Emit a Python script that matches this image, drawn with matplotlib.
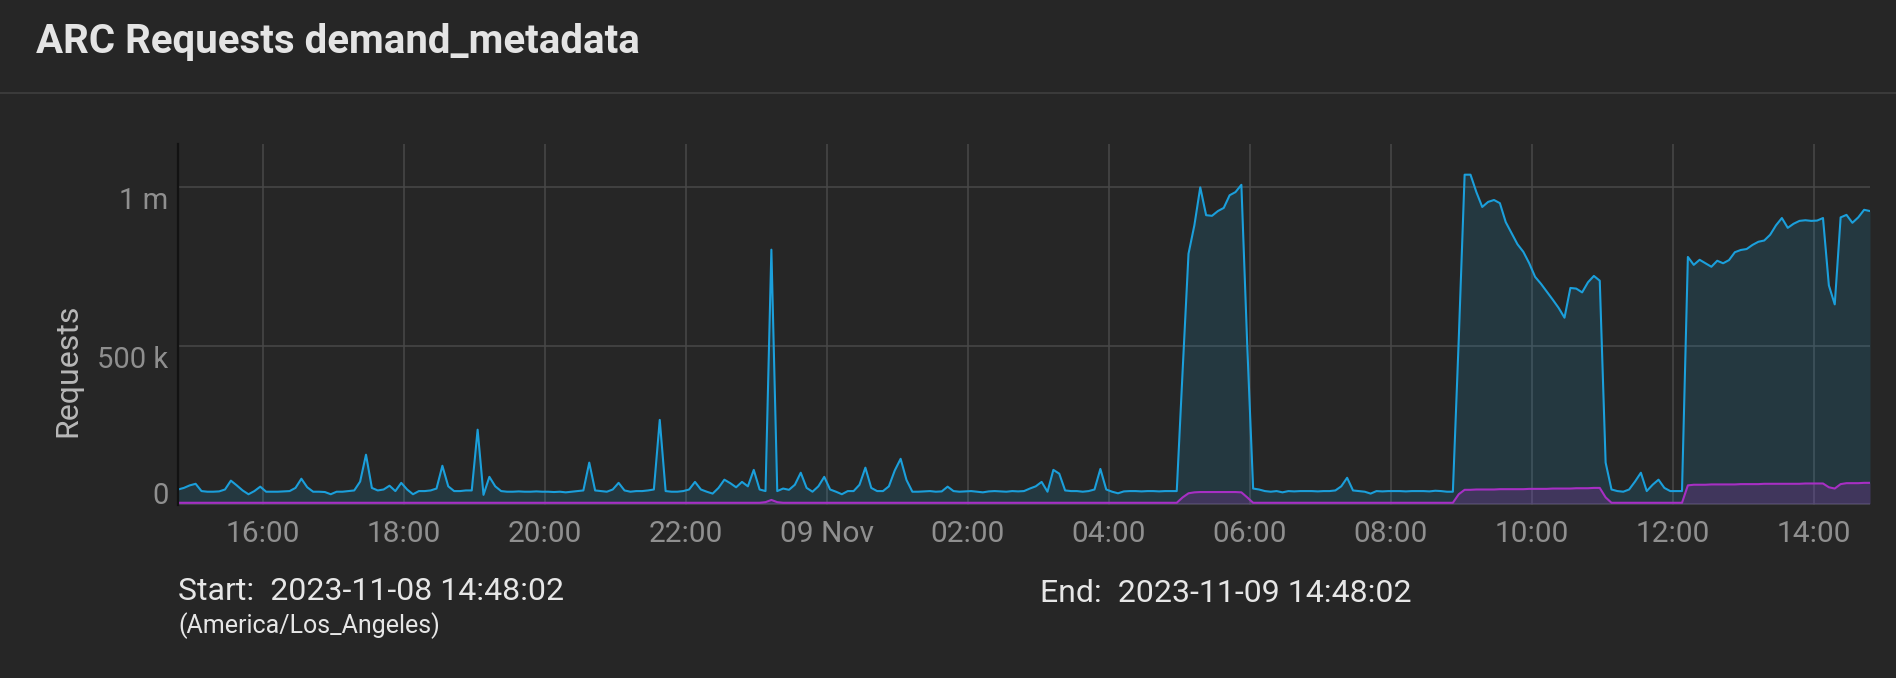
"""
ARC Requests demand_metadata - 24h panel recreated with matplotlib.
"""

import matplotlib
matplotlib.use("Agg")
import matplotlib.pyplot as plt
import pandas as pd
from matplotlib.lines import Line2D

# Time window, samples every 5 minutes
start_time = "2023-11-08 14:48:02"
end_time = "2023-11-09 14:48:02"
sample_step = "5min"

# Blue series (thousands of requests), one row per hour of samples
hits_k = [
    45, 50, 58, 63, 40, 38, 38, 39, 45, 73, 58, 42,
    30, 40, 54, 38, 38, 38, 39, 40, 50, 79, 52, 38,
    38, 37, 30, 38, 38, 40, 42, 70, 155, 50, 42, 45,
    57, 40, 66, 45, 30, 40, 40, 42, 48, 120, 55, 40,
    40, 42, 42, 234, 28, 85, 55, 40, 38, 38, 39, 38,
    38, 39, 38, 38, 37, 38, 36, 38, 40, 42, 130, 42,
    40, 38, 45, 66, 42, 38, 40, 40, 42, 45, 265, 40,
    38, 38, 40, 45, 69, 45, 38, 32, 50, 76, 65, 52,
    69, 55, 107, 45, 40, 803, 40, 48, 44, 60, 98, 50,
    38, 55, 85, 45, 38, 30, 40, 40, 60, 114, 50, 40,
    40, 55, 105, 142, 75, 38, 38, 39, 40, 38, 39, 54,
    40, 38, 39, 40, 38, 36, 39, 40, 39, 38, 40, 39,
    40, 48, 55, 69, 38, 107, 95, 42, 40, 40, 38, 40,
    45, 110, 45, 38, 33, 39, 40, 40, 39, 40, 40, 39,
    40, 40, 40, 420, 790, 880, 1000, 912, 910, 925, 935, 975,
    985, 1008, 500, 48, 45, 40, 38, 40, 36, 40, 39, 40,
    40, 40, 39, 40, 40, 42, 55, 82, 42, 40, 38, 32,
    40, 39, 40, 40, 40, 39, 40, 40, 40, 39, 41, 40,
    38, 38, 520, 1040, 1040, 985, 938, 954, 960, 950, 890, 855,
    820, 796, 760, 717, 695, 670, 645, 619, 588, 682, 680, 668,
    700, 720, 705, 130, 45, 40, 38, 45, 70, 98, 40, 60,
    76, 50, 40, 40, 40, 780, 755, 771, 760, 749, 768, 760,
    770, 795, 802, 805, 818, 828, 832, 850, 880, 903, 872, 885,
    894, 896, 894, 895, 903, 690, 630, 905, 913, 888, 905, 929,
    925,
]

# Purple series (thousands of requests)
misses_k = [
    3, 3, 3, 3, 3, 3, 3, 3, 3, 3, 3, 3,
    3, 3, 3, 3, 3, 3, 3, 3, 3, 3, 3, 3,
    3, 3, 3, 3, 3, 3, 3, 3, 3, 3, 3, 3,
    3, 3, 3, 3, 3, 3, 3, 3, 3, 3, 3, 3,
    3, 3, 3, 3, 3, 3, 3, 3, 3, 3, 3, 3,
    3, 3, 3, 3, 3, 3, 3, 3, 3, 3, 3, 3,
    3, 3, 3, 3, 3, 3, 3, 3, 3, 3, 3, 3,
    3, 3, 3, 3, 3, 3, 3, 3, 3, 3, 3, 3,
    3, 3, 3, 3, 5, 12, 5, 3, 3, 3, 3, 3,
    3, 3, 3, 3, 3, 3, 3, 3, 3, 3, 3, 3,
    3, 3, 3, 3, 3, 3, 3, 3, 3, 3, 3, 3,
    3, 3, 3, 3, 3, 3, 3, 3, 3, 3, 3, 3,
    3, 3, 3, 3, 3, 3, 3, 3, 3, 3, 3, 3,
    3, 3, 3, 3, 3, 3, 3, 3, 3, 3, 3, 3,
    3, 3, 3, 20, 33, 36, 37, 37, 37, 37, 37, 37,
    37, 36, 20, 3, 3, 3, 3, 3, 3, 3, 3, 3,
    3, 3, 3, 3, 3, 3, 3, 3, 3, 3, 3, 3,
    3, 3, 3, 3, 3, 3, 3, 3, 3, 3, 3, 3,
    3, 3, 30, 44, 44, 45, 45, 45, 45, 46, 46, 46,
    46, 46, 47, 47, 47, 47, 48, 48, 48, 48, 49, 49,
    49, 50, 50, 20, 3, 3, 3, 3, 3, 3, 3, 3,
    3, 3, 3, 3, 3, 58, 60, 60, 60, 61, 61, 61,
    61, 61, 62, 62, 62, 62, 63, 63, 63, 63, 63, 63,
    63, 64, 64, 64, 64, 52, 48, 62, 65, 65, 65, 66,
    66,
]

tick_times = [
    "2023-11-08 16:00", "2023-11-08 18:00", "2023-11-08 20:00", "2023-11-08 22:00",
    "2023-11-09 00:00", "2023-11-09 02:00", "2023-11-09 04:00", "2023-11-09 06:00",
    "2023-11-09 08:00", "2023-11-09 10:00", "2023-11-09 12:00", "2023-11-09 14:00",
]
tick_labels = ["16:00", "18:00", "20:00", "22:00", "09 Nov", "02:00",
               "04:00", "06:00", "08:00", "10:00", "12:00", "14:00"]
ytick_values = [0, 500_000, 1_000_000]
ytick_labels = ["0", "500 k", "1 m"]

BG = "#262626"
GRID = "#484848"
BLUE = "#1b9fdb"
PURPLE = "#a72fc4"
FONT = ["Roboto", "DejaVu Sans"]

W, H = 1896, 678

times = pd.date_range(start_time, periods=len(hits_k), freq=sample_step)
hits = [v * 1000 for v in hits_k]
misses = [v * 1000 for v in misses_k]

fig = plt.figure(figsize=(W / 100, H / 100), dpi=100, facecolor=BG)

# axes box in pixel coords: left 178, right 1870, top 144, bottom 505
ax = fig.add_axes([178 / W, 1 - 505 / H, (1870 - 178) / W, (505 - 144) / H])
ax.set_facecolor(BG)

# series
ax.fill_between(times, hits, 0, color=BLUE, alpha=0.15, linewidth=0)
ax.plot(times, hits, color=BLUE, linewidth=1.5)
ax.fill_between(times, misses, 0, color=PURPLE, alpha=0.22, linewidth=0)
ax.plot(times, misses, color=PURPLE, linewidth=1.5)

ax.set_xlim(pd.Timestamp(start_time), pd.Timestamp(end_time))
ax.set_ylim(-4000, 1_137_000)

# axis styling
for side in ["top", "right", "bottom"]:
    ax.spines[side].set_visible(False)
ax.spines["left"].set_color("#121212")
ax.spines["left"].set_linewidth(1.6)

ax.set_xticks(pd.to_datetime(tick_times))
ax.set_xticklabels(tick_labels, family=FONT, fontsize=21.5, color="#8f8f8f")
ax.set_yticks(ytick_values)
ax.set_yticklabels(ytick_labels, family=FONT, fontsize=21, color="#8f8f8f")
ax.tick_params(axis="x", length=0, pad=11)
ax.tick_params(axis="y", length=0, pad=7)
for lbl in ax.get_yticklabels():
    lbl.set_va("top")
ax.get_yticklabels()[0].set_va("baseline")

ax.grid(True, color=GRID, linewidth=1.1)
ax.set_axisbelow(True)

# header
fig.text(36 / W, 1 - 42 / H, "ARC Requests demand_metadata", family=FONT,
         fontsize=29, fontweight="bold", color="#e4e4e4", va="center", ha="left")
fig.add_artist(Line2D([0, 1], [1 - 93 / H, 1 - 93 / H], transform=fig.transFigure,
                      color="#3a3a3a", linewidth=1.5))

# y label
fig.text(68 / W, 1 - 370 / H, "Requests", family=FONT, fontsize=23,
         color="#b8b8b8", rotation=90, va="center", ha="center")

# footer with range
fig.text(178 / W, 1 - 592 / H, "Start:  2023-11-08 14:48:02", family=FONT,
         fontsize=23, color="#e6e6e6", va="center", ha="left")
fig.text(178 / W, 1 - 626 / H, "(America/Los_Angeles)", family=FONT,
         fontsize=18, color="#e6e6e6", va="center", ha="left")
fig.text(1040 / W, 1 - 593 / H, "End:  2023-11-09 14:48:02", family=FONT,
         fontsize=23, color="#e6e6e6", va="center", ha="left")

fig.savefig("out.png", dpi=100, facecolor=BG)
